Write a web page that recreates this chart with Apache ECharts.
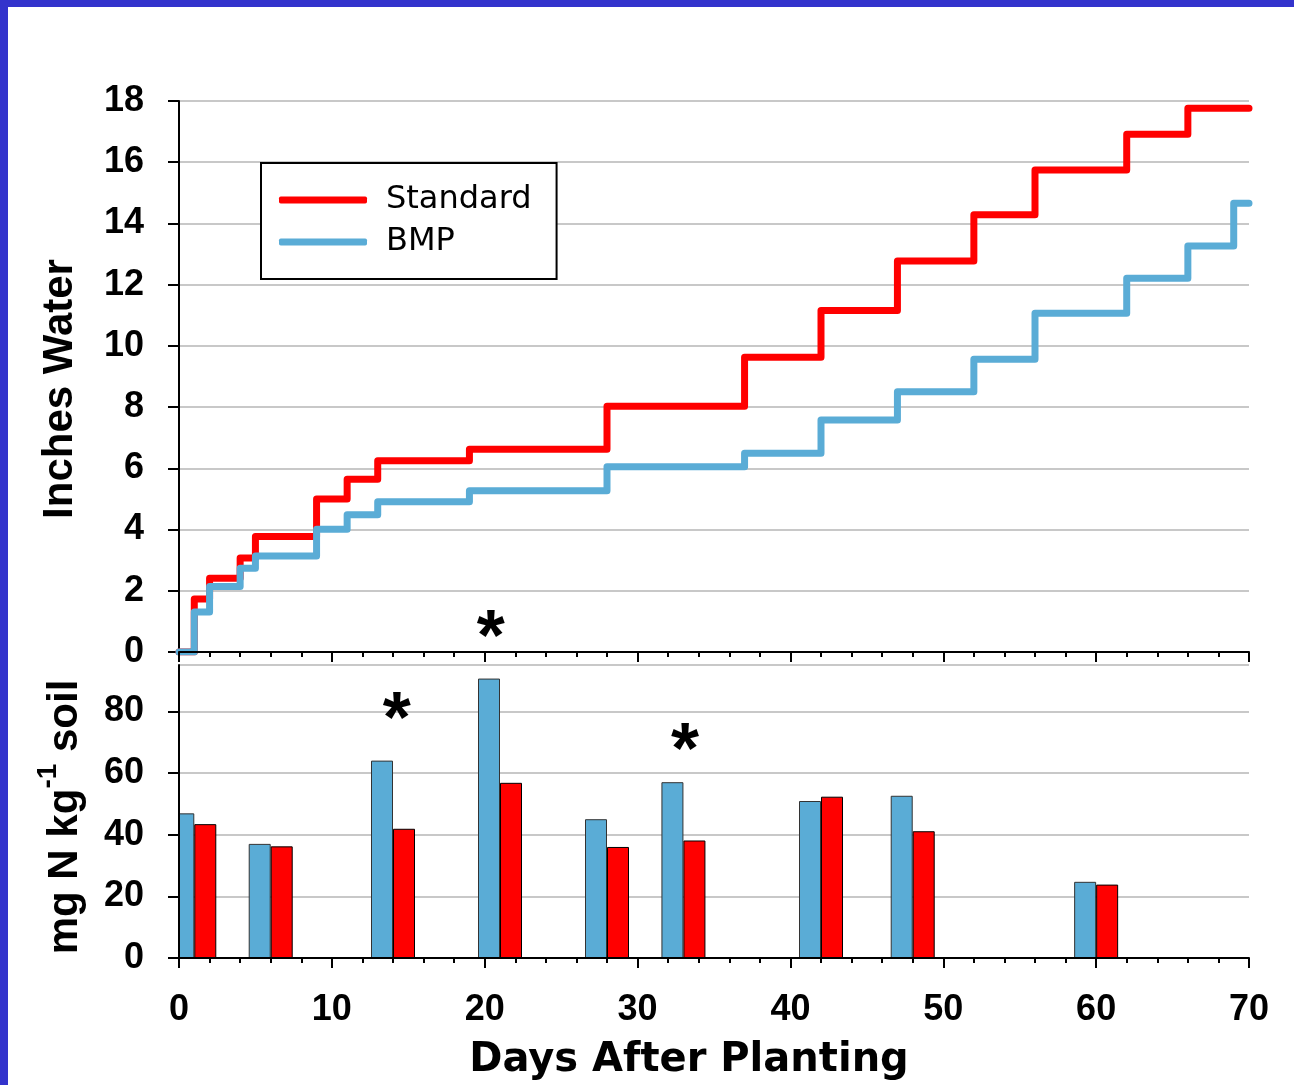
<!DOCTYPE html>
<html>
<head>
<meta charset="utf-8">
<script src="https://cdn.jsdelivr.net/npm/echarts@6/dist/echarts.min.js"></script>
<style>
html,body{margin:0;padding:0;background:#fff;}
#c{width:1294px;height:1085px;}
</style>
</head>
<body>
<div id="c"></div>
<script>
// ---- Data ----
const standardDays  = [0, 1, 2, 4, 5, 9, 11, 13, 19, 28, 37, 42, 47, 52, 56, 62, 66, 70];
const standardWater = [0, 1.73, 2.41, 3.07, 3.77, 5.0, 5.64, 6.25, 6.62, 8.03, 9.63, 11.16, 12.77, 14.28, 15.75, 16.91, 17.76, 17.76];
const bmpDays  = [0, 1, 2, 4, 5, 9, 11, 13, 19, 28, 37, 42, 47, 52, 56, 62, 66, 69, 70];
const bmpWater = [0, 1.31, 2.14, 2.74, 3.14, 4.01, 4.48, 4.91, 5.27, 6.05, 6.49, 7.58, 8.5, 9.56, 11.07, 12.21, 13.26, 14.66, 14.66];

const sampleDays = [1, 6, 14, 21, 28, 33, 42, 48, 60];
const bmpN      = [46.9, 37.0, 64.0, 90.6, 45.0, 57.0, 50.9, 52.6, 24.7];
const standardN = [43.4, 36.2, 41.9, 56.8, 36.0, 38.1, 52.3, 41.1, 23.8];

const waterStars = [[20.4, 0.83]];
const nitrogenStars = [[14.24, 81.1], [33.1, 70.9]];

const waterTicks = [0, 2, 4, 6, 8, 10, 12, 14, 16, 18];
const nitrogenTicks = [0, 20, 40, 60, 80];
const dayTicks = [0, 10, 20, 30, 40, 50, 60, 70];

const legendNames = ['Standard', 'BMP'];
const xTitle = 'Days After Planting';
const yTitleTop = 'Inches Water';

// ---- Styles ----
const RED = '#ff0000';
const BLUE = '#5aacd6';
const GRID = '#c8c8c8';
const FONT = '"Liberation Sans", Arial, sans-serif';
const LBL = {fontSize: 36, fontWeight: 'bold', fontFamily: FONT, color: '#000'};

const chart = echarts.init(document.getElementById('c'), null, {renderer: 'canvas'});

const axisLineStyle = {color: '#000', width: 2};

const xAxisCommon = (grid, showLabel) => ({
  gridIndex: grid, type: 'value', position: 'bottom', min: dayTicks[0], max: dayTicks[dayTicks.length - 1], interval: 10, z: 10,
  axisLine: {show: true, onZero: false, lineStyle: axisLineStyle},
  axisTick: {show: true, length: 10, lineStyle: axisLineStyle},
  minorTick: {show: true, splitNumber: 5, length: 5, lineStyle: axisLineStyle},
  axisLabel: showLabel ? Object.assign({show: true, margin: 34}, LBL) : {show: false},
  splitLine: {show: false}
});

const option = {
  animation: false,
  backgroundColor: '#fff',
  grid: [
    {left: 179, right: 45, top: 101, height: 551, outerBoundsMode: 'none', containLabel: false},
    {left: 179, right: 45, top: 665, height: 293, outerBoundsMode: 'none', containLabel: false}
  ],
  legend: {
    data: legendNames,
    orient: 'vertical',
    left: 261, top: 163,
    icon: 'roundRect',
    itemWidth: 88, itemHeight: 7, itemGap: 10,
    padding: [21, 25, 21, 18],
    borderColor: '#000', borderWidth: 2,
    backgroundColor: '#fff',
    selectedMode: false,
    textStyle: {fontSize: 32, fontFamily: '"DejaVu Sans", sans-serif', color: '#000', padding: [0, 0, 0, 14], lineHeight: 30}
  },
  xAxis: [xAxisCommon(0, false), xAxisCommon(1, true)],
  yAxis: [
    {
      gridIndex: 0, type: 'value', position: 'left', min: waterTicks[0], max: waterTicks[waterTicks.length - 1], interval: 2,
      axisLine: {show: true, onZero: false, lineStyle: axisLineStyle},
      axisTick: {show: true, length: 11, lineStyle: axisLineStyle},
      axisLabel: Object.assign({margin: 35}, LBL),
      splitLine: {show: true, showMinLine: false, lineStyle: {color: GRID, width: 2}}
    },
    {
      // gridlines only (below the bars)
      gridIndex: 1, type: 'value', position: 'left', offset: 0, min: 0, max: 95, interval: 20, z: 0,
      axisLine: {show: false, onZero: false}, axisTick: {show: false}, axisLabel: {show: false},
      splitLine: {show: true, showMinLine: false, lineStyle: {color: GRID, width: 2}}
    },
    {
      // axis line, ticks and labels (above the bars)
      gridIndex: 1, type: 'value', position: 'left', offset: 0, min: 0, max: 95, interval: 20, z: 10,
      axisLine: {show: true, onZero: false, lineStyle: axisLineStyle},
      axisTick: {show: true, length: 11, lineStyle: axisLineStyle, customValues: nitrogenTicks},
      axisLabel: Object.assign({margin: 35, customValues: nitrogenTicks}, LBL),
      splitLine: {show: false}
    }
  ],
  graphic: [
    {type: 'rect', z: 100, shape: {x: 0, y: 0, width: 1294, height: 7}, style: {fill: '#3333cc'}},
    {type: 'rect', z: 100, shape: {x: 0, y: 0, width: 8, height: 1085}, style: {fill: '#3333cc'}},
    // mask: the plot area clips bars at the y axis
    {type: 'rect', z: 5, shape: {x: 150, y: 662, width: 28, height: 296}, style: {fill: '#fff'}},
    {
      type: 'text', x: 60, y: 389, rotation: Math.PI / 2,
      style: {text: yTitleTop, fontSize: 42, fontWeight: 'bold', fontFamily: FONT, fill: '#000', align: 'center', verticalAlign: 'middle'}
    },
    {
      type: 'text', x: 60, y: 817, rotation: Math.PI / 2,
      style: {
        text: '{b|mg N kg}{s|-1}{b| soil}',
        fill: '#000', align: 'center', verticalAlign: 'middle',
        rich: {
          b: {fontSize: 42, fontWeight: 'bold', fontFamily: FONT, fill: '#000', lineHeight: 52, verticalAlign: 'bottom'},
          s: {fontSize: 28, fontWeight: 'bold', fontFamily: FONT, fill: '#000', lineHeight: 30, verticalAlign: 'top'}
        }
      }
    },
    {
      type: 'text', x: 689, y: 1061,
      style: {text: xTitle, fontSize: 40, fontWeight: 'bold', fontFamily: '"DejaVu Sans", sans-serif', fill: '#000', align: 'center', verticalAlign: 'middle'}
    }
  ],
  series: [
    {
      name: 'Standard', type: 'line', xAxisIndex: 0, yAxisIndex: 0, step: 'end', symbol: 'none',
      data: standardDays.map((d, i) => [d, standardWater[i]]),
      lineStyle: {color: RED, width: 7, cap: 'round', join: 'round'},
      itemStyle: {color: RED}, z: 3
    },
    {
      name: 'BMP', type: 'line', xAxisIndex: 0, yAxisIndex: 0, step: 'end', symbol: 'none',
      data: bmpDays.map((d, i) => [d, bmpWater[i]]),
      lineStyle: {color: BLUE, width: 7, cap: 'round', join: 'round'},
      itemStyle: {color: BLUE}, z: 4
    },
    {
      name: 'BMP soil N', type: 'bar', xAxisIndex: 1, yAxisIndex: 1,
      barWidth: 22, barGap: '0%',
      data: sampleDays.map((d, i) => [d, bmpN[i]]),
      itemStyle: {color: BLUE, borderColor: '#333', borderWidth: 1}
    },
    {
      name: 'Standard soil N', type: 'bar', xAxisIndex: 1, yAxisIndex: 1,
      barWidth: 22, barGap: '0%',
      data: sampleDays.map((d, i) => [d, standardN[i]]),
      itemStyle: {color: RED, borderColor: '#000', borderWidth: 1}
    },
    {
      name: 'water stars', type: 'scatter', xAxisIndex: 0, yAxisIndex: 0, silent: true,
      data: waterStars, symbolSize: 1, itemStyle: {color: 'rgba(0,0,0,0)', opacity: 1},
      label: {show: true, position: 'inside', formatter: '*', fontSize: 72, fontWeight: 'bold', fontFamily: FONT, color: '#000', opacity: 1, offset: [0, 14]},
      z: 10
    },
    {
      name: 'nitrogen stars', type: 'scatter', xAxisIndex: 1, yAxisIndex: 1, silent: true,
      data: nitrogenStars, symbolSize: 1, itemStyle: {color: 'rgba(0,0,0,0)', opacity: 1},
      label: {show: true, position: 'inside', formatter: '*', fontSize: 72, fontWeight: 'bold', fontFamily: FONT, color: '#000', opacity: 1, offset: [0, 14]},
      z: 10
    }
  ]
};
chart.setOption(option);
</script>
</body>
</html>
